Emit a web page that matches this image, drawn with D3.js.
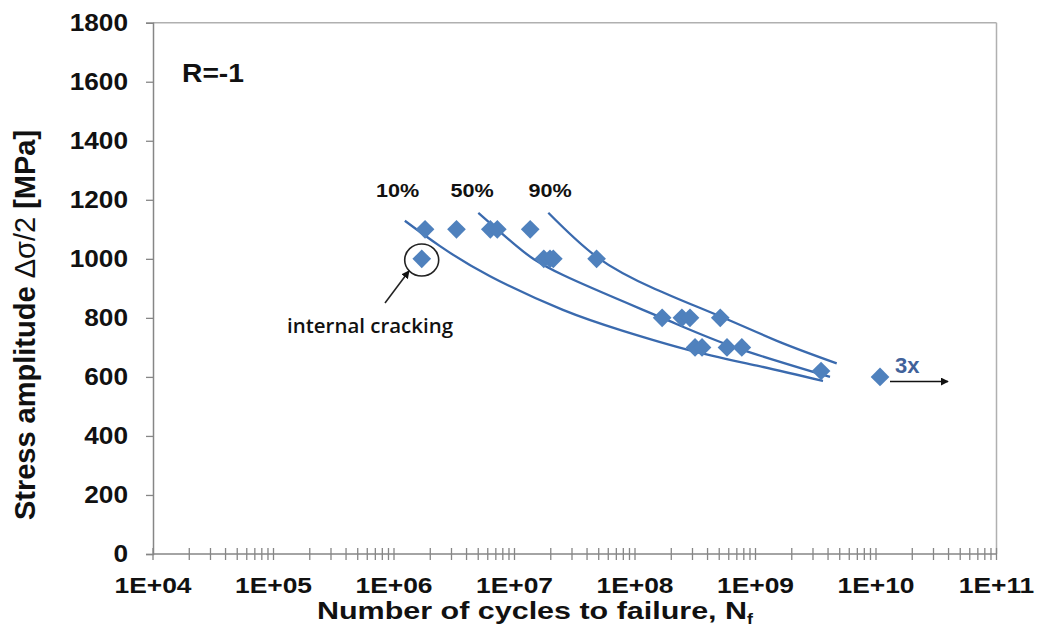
<!DOCTYPE html>
<html><head><meta charset="utf-8">
<script src="https://cdn.jsdelivr.net/npm/d3@7"></script>
<style>body{margin:0;background:#fff}svg{display:block}</style>
</head><body><svg id="c" width="1038" height="635"></svg>
<script>
// ---- data ----
const xTickValues = [1e4,1e5,1e6,1e7,1e8,1e9,1e10,1e11];
const xTickLabels = ["1E+04","1E+05","1E+06","1E+07","1E+08","1E+09","1E+10","1E+11"];
const yTickValues = [0,200,400,600,800,1000,1200,1400,1600,1800];
// test results: cycles to failure and stress amplitude (MPa)
const pointsN = [1.7e6,1.81e6,3.3e6,6.3e6,7.2e6,1.35e7,1.75e7,1.97e7,2.1e7,4.8e7,1.68e8,2.45e8,2.86e8,5.1e8,3.15e8,3.6e8,5.8e8,7.7e8,3.5e9,1.08e10];
const pointsS = [1000,1100,1100,1100,1100,1100,1000,1000,1000,1000,800,800,800,800,700,700,700,700,620,600];
// fitted probability curves
const curve10N = [1.23e6,2.41e6,6.27e6,2.52e7,7.94e7,2.86e8,1.03e9,3.63e9];
const curve10S = [1129,1043,941,827,756,690,638,586];
const curve50N = [5.01e6,1.043e7,2.527e7,1.676e8,6.76e8,4.153e9];
const curve50S = [1156,1043,945,800,700,600];
const curve90N = [1.908e7,4.837e7,1.466e8,5.241e8,1.597e9,4.72e9];
const curve90S = [1156,1006,898,803,718,646];
const curveLabels = ["10%","50%","90%"];

// ---- layout ----
const svg = d3.select("#c");
const FONT = "Liberation Sans, Arial, sans-serif";
const L=153, R=996.5, T=22.7, B=554;
const x = d3.scaleLog().domain([1e4,1e11]).range([L,R]);
const y = d3.scaleLinear().domain([0,1800]).range([B,T]);
const blue="#4F81BD", lineBlue="#3A6AAE", axisGray="#868686";

function txt(g, px, py, str, o){
  const t = g.append("text").attr("transform",`translate(${px},${py}) scale(${o.sx||1},1)`)
    .attr("text-anchor",o.anchor||"start").attr("font-family",o.family||FONT)
    .attr("font-size",o.size).attr("font-weight",o.weight||"bold").attr("fill",o.fill||"#111");
  if(str!==null) t.text(str);
  return t;
}

// frame top/right
svg.append("line").attr("x1",L).attr("x2",R).attr("y1",T).attr("y2",T).attr("stroke","#b0b0b0").attr("stroke-width",1.5);
svg.append("line").attr("x1",R).attr("x2",R).attr("y1",T).attr("y2",B).attr("stroke","#b0b0b0").attr("stroke-width",1.5);

// y axis
const ya = svg.append("g").attr("transform",`translate(${L},0)`)
  .call(d3.axisLeft(y).tickValues(yTickValues).tickSize(7).tickFormat(""));
ya.select(".domain").attr("stroke",axisGray).attr("stroke-width",1.5);
ya.selectAll(".tick line").attr("stroke",axisGray).attr("stroke-width",1.3);
yTickValues.forEach(v=>txt(svg,128,y(v)+8.3,String(v),{size:23,anchor:"end",sx:1.14}));

// x axis with minor ticks crossing axis
const minor=[];
for(let e=4;e<11;e++) for(let m=1;m<10;m++) minor.push(m*Math.pow(10,e));
minor.push(1e11);
const xa = svg.append("g");
xa.append("line").attr("x1",L).attr("x2",R).attr("y1",B).attr("y2",B).attr("stroke",axisGray).attr("stroke-width",1.5);
xa.selectAll("line.mt").data(minor).join("line").attr("class","mt")
  .attr("x1",d=>x(d)).attr("x2",d=>x(d))
  .attr("y1",B-6).attr("y2",B+6)
  .attr("stroke",axisGray).attr("stroke-width",1.3);
xTickValues.forEach((v,i)=>txt(svg,x(v),593,xTickLabels[i],{size:22,anchor:"middle",sx:1.2}));

// axis titles
const xt = txt(svg,317,619,null,{size:24,sx:1.27});
xt.append("tspan").text("Number of cycles to failure, N");
xt.append("tspan").attr("font-size",14).attr("dy",5).text("f");

const yt = svg.append("text").attr("transform","translate(35,325) rotate(-90)").attr("text-anchor","middle")
  .attr("font-family",FONT).attr("font-size",29).attr("font-weight","bold").attr("fill","#111");
yt.append("tspan").text("Stress amplitude ");
yt.append("tspan").attr("font-weight","normal").text("Δσ/2");
yt.append("tspan").text(" [MPa]");

// curves
const line = d3.line().x(d=>x(d[0])).y(d=>y(d[1])).curve(d3.curveNatural);
[[curve10N,curve10S],[curve50N,curve50S],[curve90N,curve90S]].forEach(([n,s])=>{
  svg.append("path").attr("d",line(n.map((v,i)=>[v,s[i]]))).attr("fill","none")
    .attr("stroke",lineBlue).attr("stroke-width",2.3);
});

// points (diamonds)
const diamond = d3.symbol().type(d3.symbolSquare).size(175);
svg.selectAll("path.pt").data(pointsN.map((n,i)=>[n,pointsS[i]])).join("path").attr("class","pt")
  .attr("d",diamond).attr("transform",d=>`translate(${x(d[0])},${y(d[1])}) rotate(45)`)
  .attr("fill",blue);

// curve labels
const labelX=[397.5,472,550];
curveLabels.forEach((s,i)=>txt(svg,labelX[i],197,s,{size:18,anchor:"middle",sx:1.2}));

// R=-1
txt(svg,182,81.5,"R=-1",{size:25,sx:1.13});

// internal cracking annotation
svg.append("ellipse").attr("cx",421.7).attr("cy",260).attr("rx",17).attr("ry",16).attr("fill","none").attr("stroke","#222").attr("stroke-width",1.6);
svg.append("defs").append("marker").attr("id","ah").attr("viewBox","0 0 10 10").attr("refX",9).attr("refY",5)
  .attr("markerWidth",5).attr("markerHeight",5).attr("orient","auto")
  .append("path").attr("d","M0,0L10,5L0,10z").attr("fill","#111");
svg.append("line").attr("x1",385).attr("y1",303).attr("x2",409).attr("y2",271).attr("stroke","#222").attr("stroke-width",1.6).attr("marker-end","url(#ah)");
svg.append("text").attr("x",287).attr("y",333).attr("font-family","Open Sans, sans-serif")
  .attr("font-size",19).attr("font-weight","600").attr("fill","#111")
  .attr("textLength",166).attr("lengthAdjust","spacingAndGlyphs").text("internal cracking");

// 3x runout arrow
svg.append("line").attr("x1",890).attr("y1",381.5).attr("x2",948).attr("y2",381.5).attr("stroke","#111").attr("stroke-width",1.6).attr("marker-end","url(#ah)");
txt(svg,895,372.5,"3x",{size:22,fill:"#41629a"});
</script></body></html>
